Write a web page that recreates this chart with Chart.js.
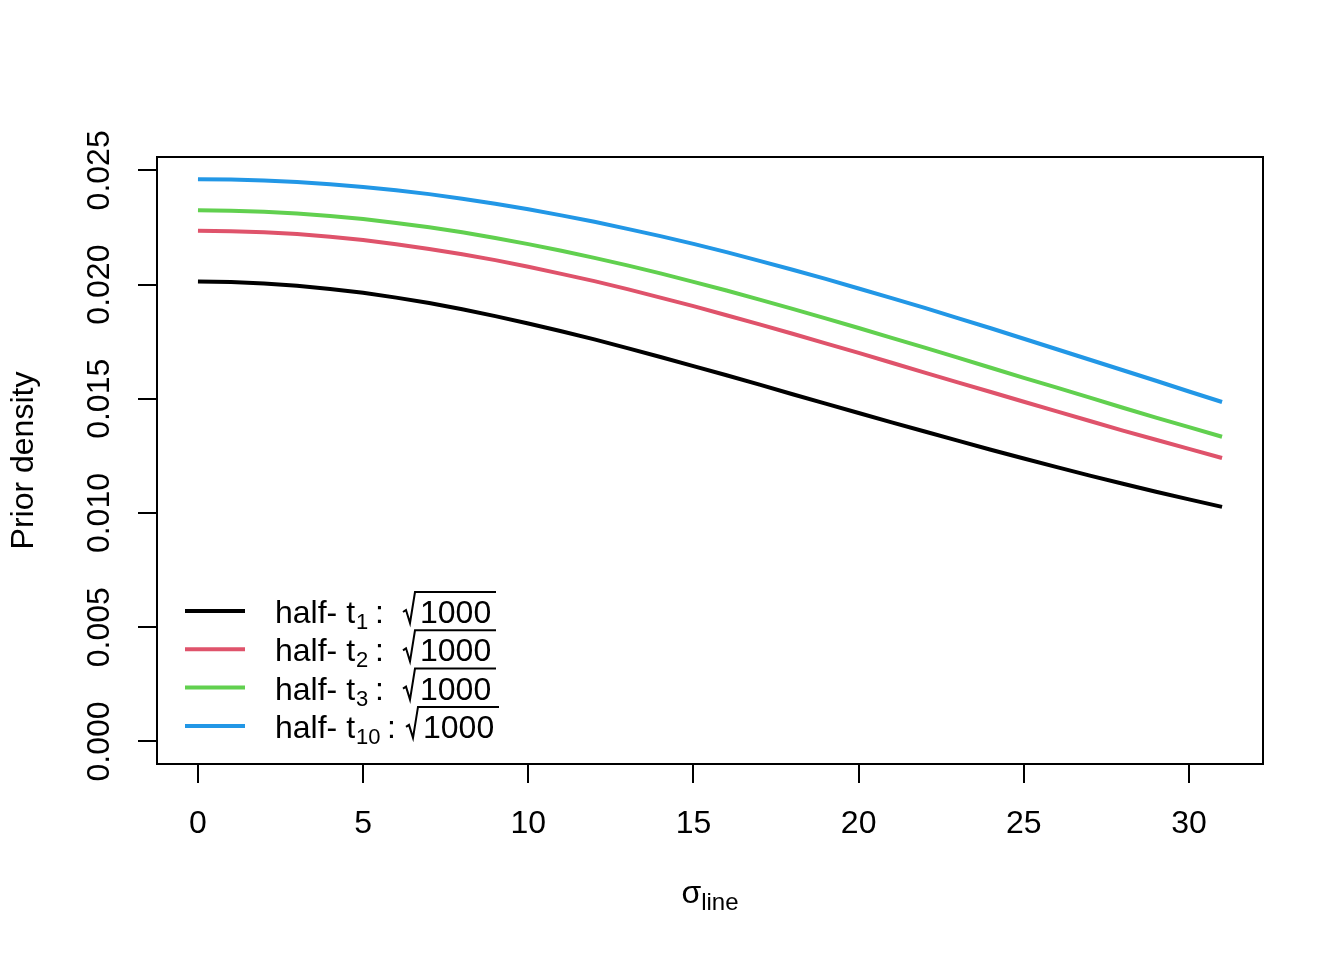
<!DOCTYPE html>
<html>
<head>
<meta charset="utf-8">
<script src="https://cdn.jsdelivr.net/npm/chart.js@4.4.1/dist/chart.umd.min.js"></script>
<style>
  html, body { margin: 0; padding: 0; background: #fff; }
</style>
</head>
<body>
<canvas id="myChart" width="1344" height="960"></canvas>
<script>
// sigma_line values and prior densities
const sigma = [0, 1, 2, 3, 4, 5, 6, 7, 8, 9, 10, 11, 12, 13, 14, 15,
  16, 17, 18, 19, 20, 21, 22, 23, 24, 25, 26, 27, 28, 29, 30, 31];
const halfT1 = [0.02013, 0.02011, 0.02005, 0.01995, 0.01981, 0.01964, 0.01943, 0.01919,
  0.01892, 0.01862, 0.01830, 0.01796, 0.01760, 0.01722, 0.01683, 0.01643,
  0.01603, 0.01562, 0.01520, 0.01479, 0.01438, 0.01397, 0.01357, 0.01317,
  0.01277, 0.01239, 0.01201, 0.01164, 0.01128, 0.01093, 0.01060, 0.01027];
const halfT2 = [0.02236, 0.02234, 0.02229, 0.02221, 0.02209, 0.02195, 0.02177, 0.02156,
  0.02133, 0.02107, 0.02078, 0.02047, 0.02015, 0.01980, 0.01943, 0.01906,
  0.01866, 0.01826, 0.01785, 0.01743, 0.01701, 0.01658, 0.01615, 0.01572,
  0.01530, 0.01487, 0.01445, 0.01403, 0.01361, 0.01321, 0.01281, 0.01241];
const halfT3 = [0.02325, 0.02323, 0.02319, 0.02311, 0.02300, 0.02287, 0.02270, 0.02251,
  0.02229, 0.02204, 0.02177, 0.02148, 0.02117, 0.02084, 0.02049, 0.02012,
  0.01974, 0.01934, 0.01894, 0.01852, 0.01810, 0.01767, 0.01724, 0.01680,
  0.01636, 0.01592, 0.01549, 0.01505, 0.01461, 0.01418, 0.01376, 0.01334];
const halfT10 = [0.02461, 0.02460, 0.02456, 0.02449, 0.02439, 0.02427, 0.02413, 0.02396,
  0.02376, 0.02354, 0.02330, 0.02303, 0.02275, 0.02244, 0.02212, 0.02178,
  0.02142, 0.02104, 0.02065, 0.02025, 0.01983, 0.01941, 0.01898, 0.01853,
  0.01809, 0.01763, 0.01717, 0.01671, 0.01625, 0.01579, 0.01532, 0.01486];

const dfLabels = ['1', '2', '3', '10'];
const scaleLabel = '1000';
const xTicks = [0, 5, 10, 15, 20, 25, 30];
const yTicks = [0, 0.005, 0.01, 0.015, 0.02, 0.025];
const colors = ['#000000', '#DF536B', '#61D04F', '#2297E6'];

const FONT = '"Liberation Sans", Arial, Helvetica, sans-serif';

const toPoints = (ys) => sigma.map((x, i) => ({ x: x, y: ys[i] }));

// box around plot + legend + x axis title
const rDecor = {
  id: 'rDecor',
  afterDraw(chart) {
    const ctx = chart.ctx;
    const a = chart.chartArea;
    ctx.save();
    ctx.strokeStyle = '#000';
    ctx.lineWidth = 2;
    ctx.strokeRect(a.left, a.top, a.right - a.left, a.bottom - a.top);

    // legend
    const big = '32px ' + FONT;
    const sub = '22px ' + FONT;
    dfLabels.forEach((df, i) => {
      const y = 611 + i * 38.3;
      ctx.strokeStyle = colors[i];
      ctx.lineWidth = 4;
      ctx.beginPath();
      ctx.moveTo(185, y);
      ctx.lineTo(245, y);
      ctx.stroke();

      const base = y + 12;
      ctx.fillStyle = '#000';
      ctx.textAlign = 'left';
      ctx.textBaseline = 'alphabetic';
      let x = 275;
      ctx.font = big;
      ctx.fillText('half- t', x, base);
      x += ctx.measureText('half- t').width + 1;
      ctx.font = sub;
      ctx.fillText(df, x, base + 6);
      ctx.font = big;
      const wide = df.length > 1;
      ctx.fillText(':', wide ? 387 : 375, base);

      // radical sign + overline
      const rx = wide ? 406 : 403;
      const top = base - 31;
      ctx.strokeStyle = '#000';
      ctx.lineWidth = 2;
      ctx.beginPath();
      ctx.moveTo(rx, base - 11);
      ctx.lineTo(rx + 3, base - 13);
      ctx.lineTo(rx + 7, base);
      ctx.lineTo(rx + 12, top);
      ctx.lineTo(rx + 93, top);
      ctx.stroke();
      ctx.fillText(scaleLabel, rx + 17, base);
    });

    // x axis title: sigma with subscript "line"
    ctx.font = big;
    const w1 = ctx.measureText('\u03C3').width;
    ctx.font = '24px ' + FONT;
    const w2 = ctx.measureText('line').width;
    const cx = (a.left + a.right) / 2;
    const tx = cx - (w1 + w2) / 2;
    ctx.fillStyle = '#000';
    ctx.font = big;
    ctx.fillText('\u03C3', tx, 903);
    ctx.font = '24px ' + FONT;
    ctx.fillText('line', tx + w1, 910);
    ctx.restore();
  }
};

const ctx = document.getElementById('myChart');

new Chart(ctx, {
  type: 'line',
  data: {
    datasets: dfLabels.map((df, i) => ({
      label: 'half- t' + df + ' : \u221A' + scaleLabel,
      data: toPoints([halfT1, halfT2, halfT3, halfT10][i]),
      borderColor: colors[i],
      borderWidth: 4,
      pointRadius: 0,
      fill: false,
      tension: 0,
    })),
  },
  options: {
    responsive: false,
    animation: false,
    devicePixelRatio: 1,
    layout: { padding: { top: 157, right: 81, left: 0, bottom: 0 } },
    plugins: {
      legend: { display: false },
      tooltip: { enabled: false },
    },
    scales: {
      x: {
        type: 'linear',
        min: -1.24,
        max: 32.24,
        afterBuildTicks: (s) => { s.ticks = xTicks.map((v) => ({ value: v })); },
        afterFit: (s) => { s.height = 196; },
        border: { display: false },
        grid: { drawOnChartArea: false, drawTicks: true, tickLength: 19, color: '#000', lineWidth: 2 },
        ticks: {
          color: '#000',
          font: { family: FONT, size: 32 },
          padding: 22,
          maxRotation: 0,
          autoSkip: false,
          callback: (v) => String(v),
        },
      },
      y: {
        type: 'linear',
        min: -0.000985,
        max: 0.025585,
        afterBuildTicks: (s) => { s.ticks = yTicks.map((v) => ({ value: v })); },
        afterFit: (s) => { s.width = 157; },
        border: { display: false },
        grid: { drawOnChartArea: false, drawTicks: true, tickLength: 19, color: '#000', lineWidth: 2 },
        ticks: {
          color: '#000',
          font: { family: FONT, size: 32 },
          padding: -2,
          minRotation: 90,
          maxRotation: 90,
          crossAlign: 'center',
          autoSkip: false,
          callback: (v) => v.toFixed(3),
        },
        title: {
          display: true,
          text: 'Prior density',
          color: '#000',
          font: { family: FONT, size: 32 },
          padding: { top: 5, bottom: 0 },
        },
      },
    },
  },
  plugins: [rDecor],
});
</script>
</body>
</html>
